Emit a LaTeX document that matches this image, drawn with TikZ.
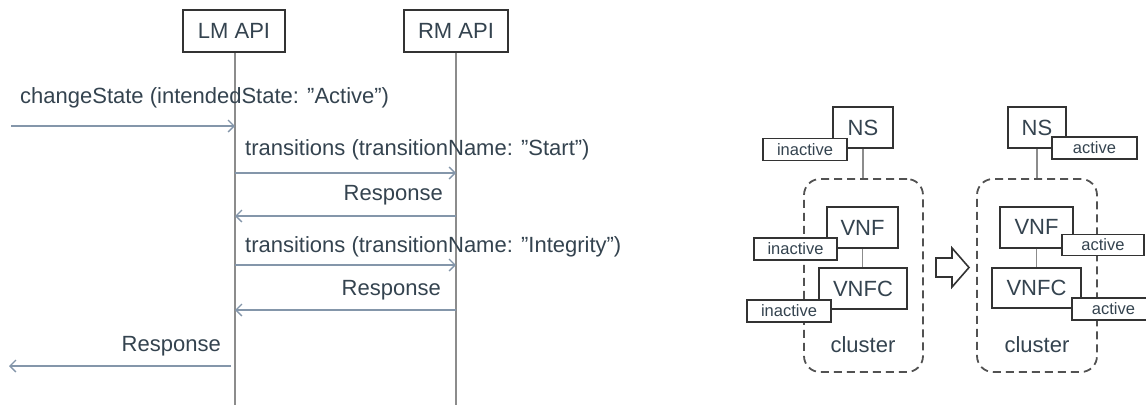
\documentclass[tikz,border=0pt]{standalone}
\usepackage{fontspec}
\setmainfont{Liberation Sans}
\usetikzlibrary{arrows.meta}
\definecolor{txt}{HTML}{34434F}
\definecolor{msg}{HTML}{8496AA}
\definecolor{life}{HTML}{8C8C8C}
\definecolor{frame}{HTML}{333333}
% straight double quote, kept out of the TeX ligature mapping
\newcommand\dq{\char"22\relax}
\tikzset{
  big/.style={font=\fontsize{22}{26}\selectfont, text=txt},
  small/.style={font=\fontsize{16.5}{19}\selectfont, text=txt},
  apibox/.style={draw=frame, line width=2pt, fill=white, big, inner sep=0pt},
  entbox/.style={draw=frame, line width=2pt, fill=white, big, inner sep=0pt, minimum height=41pt},
  statebox/.style={draw=frame, line width=1.6pt, fill=white, small, inner sep=0pt, minimum height=22pt, minimum width=84pt},
  lifeline/.style={draw=life, line width=1.4pt},
  call/.style={draw=msg, line width=1.4pt, -{Straight Barb[length=6pt,width=12pt,line width=1.3pt]}},
  msgtext/.style={big, inner sep=0pt},
  groupbox/.style={draw=frame!85, line width=1.8pt, dash pattern=on 8pt off 5pt, rounded corners=16pt, inner sep=0pt},
  link/.style={draw=life, line width=1.2pt},
}
\begin{document}
\begin{tikzpicture}[x=1pt,y=-1pt]
\useasboundingbox (0,0) rectangle (1146,405);

% ---------- sequence of calls ----------
\node[apibox, minimum width=102pt, minimum height=42pt] (lm) at (234,31) {LM API};
\node[apibox, minimum width=104pt, minimum height=42pt] (rm) at (456,31) {RM API};
\coordinate (lmend) at (235,405);
\coordinate (rmend) at (456,405);
\draw[lifeline] (lm.south -| lmend) -- (lmend);
\draw[lifeline] (rm.south -| rmend) -- (rmend);

\coordinate (in0) at (11,126);
\coordinate (lm1) at (235,126);
\coordinate (lm2) at (235,173);
\coordinate (rm2) at (456,173);
\coordinate (rm3) at (456,216);
\coordinate (lm3) at (235,216);
\coordinate (lm4) at (235,265);
\coordinate (rm4) at (456,265);
\coordinate (rm5) at (456,310);
\coordinate (lm5) at (235,310);
\coordinate (lm6) at (231,366);
\coordinate (out6) at (9,366);

\draw[call] (in0) -- (lm1);
\draw[call] (lm2) -- (rm2);
\draw[call] (rm3) -- (lm3);
\draw[call] (lm4) -- (rm4);
\draw[call] (rm5) -- (lm5);
\draw[call] (lm6) -- (out6);

\node[msgtext, anchor=west] (t1) at (20,98) {changeState (intendedState: \dq Active\dq)};
\node[msgtext, anchor=west] (t2) at (245,150) {transitions (transitionName: \dq Start\dq)};
\node[msgtext, anchor=east] (t3) at (443,195) {Response};
\node[msgtext, anchor=west] (t4) at (245,247) {transitions (transitionName: \dq Integrity\dq)};
\node[msgtext, anchor=east] (t5) at (441,290) {Response};
\node[msgtext, anchor=east] (t6) at (221,346) {Response};

% ---------- state before ----------
\node[groupbox, minimum width=119pt, minimum height=193pt] (clL) at (863.5,275.5) {};
\node[big] (clLt) at (863,345) {cluster};
\node[entbox, minimum width=60pt] (nsL) at (863,127.5) {NS};
\node[entbox, minimum width=71pt] (vnfL) at (862.5,227.5) {VNF};
\node[entbox, minimum width=88pt] (vnfcL) at (863,288.5) {VNFC};
\draw[link] (nsL.south) -- (nsL.south |- clL.north);
\draw[link] (vnfL.south) -- (vnfL.south |- vnfcL.north);
\node[statebox] (nsLs) at (805,149.5) {inactive};
\node[statebox, minimum width=83pt] (vnfLs) at (795.5,249) {inactive};
\node[statebox] (vnfcLs) at (789,311) {inactive};

% ---------- transition mark ----------
\draw[draw=frame, line width=1.6pt, fill=white, line join=miter]
  (936,258) -- (952,258) -- (952,248) -- (969,267.5) -- (952,287) -- (952,277) -- (936,277) -- cycle;

% ---------- state after ----------
\node[groupbox, minimum width=120pt, minimum height=193pt] (clR) at (1037,275.5) {};
\node[big] (clRt) at (1037,345) {cluster};
\node[entbox, minimum width=58pt] (nsR) at (1037,127.5) {NS};
\node[entbox, minimum width=73pt] (vnfR) at (1036.5,227) {VNF};
\node[entbox, minimum width=89pt, minimum height=40pt] (vnfcR) at (1036.5,288) {VNFC};
\draw[link] (nsR.south) -- (nsR.south |- clR.north);
\draw[link] (vnfR.south) -- (vnfR.south |- vnfcR.north);
\node[statebox, minimum width=85pt] (nsRs) at (1094.5,148) {active};
\node[statebox, minimum width=82pt, minimum height=21pt] (vnfRs) at (1103,245) {active};
\node[statebox, minimum width=83pt] (vnfcRs) at (1113.5,309) {active};
\end{tikzpicture}
\end{document}
